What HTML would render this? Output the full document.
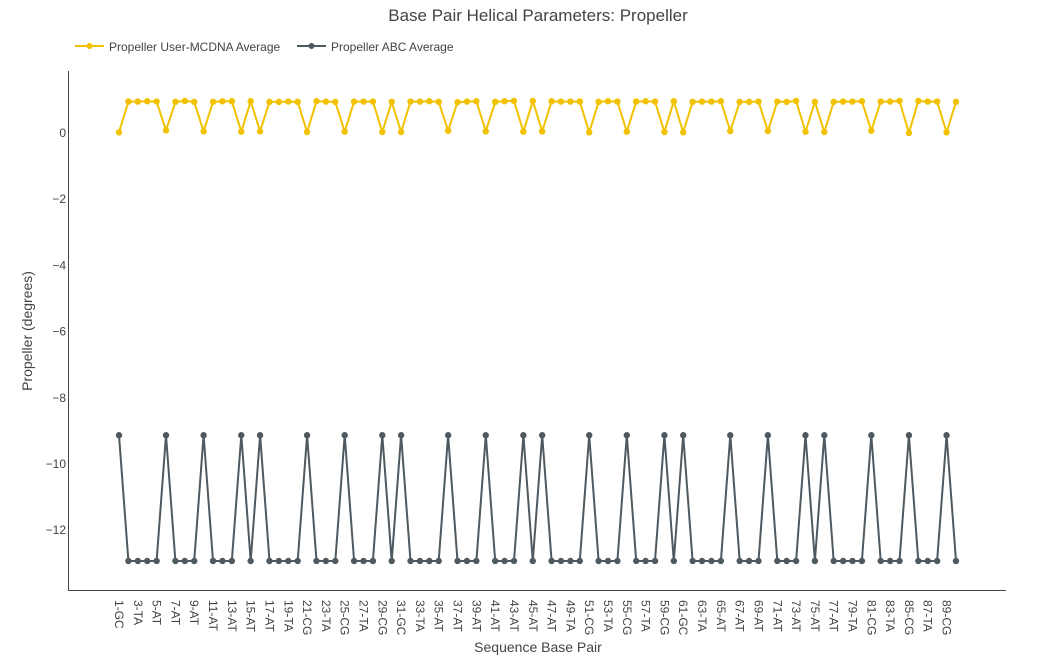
<!DOCTYPE html>
<html><head><meta charset="utf-8"><style>
html,body{margin:0;padding:0;background:#fff;}
svg{display:block;font-family:"Liberation Sans",sans-serif;}
</style></head><body>
<svg id="chart" width="1052" height="672" viewBox="0 0 1052 672" xmlns="http://www.w3.org/2000/svg">
<text x="538" y="21" text-anchor="middle" font-size="17" fill="#444">Base Pair Helical Parameters: Propeller</text>
<g>
 <g>
  <line x1="75" y1="46" x2="104" y2="46" stroke="#f2c100" stroke-width="2"/>
  <circle cx="89.5" cy="46" r="3" fill="#f2c100"/>
  <text x="109" y="51" font-size="12" fill="#444">Propeller User-MCDNA Average</text>
 </g>
 <g>
  <line x1="297" y1="46" x2="326" y2="46" stroke="#4f5960" stroke-width="2"/>
  <circle cx="311.5" cy="46" r="3" fill="#4f5960"/>
  <text x="331" y="51" font-size="12" fill="#444">Propeller ABC Average</text>
 </g>
</g>
<g id="axes"></g>
<g id="marks"></g>
<text transform="translate(32,331) rotate(-90)" text-anchor="middle" font-size="14" fill="#444">Propeller (degrees)</text>
<text x="538" y="652" text-anchor="middle" font-size="14" fill="#444">Sequence Base Pair</text>
</svg>
<script>
const gcIdx = [1,6,10,14,16,21,25,29,31,36,40,44,46,51,55,59,61,66,70,74,76,81,85,89];
const oddLabels = ["1-GC","3-TA","5-AT","7-AT","9-AT","11-AT","13-AT","15-AT","17-AT","19-TA","21-CG","23-TA","25-CG","27-TA","29-CG","31-GC","33-TA","35-AT","37-AT","39-AT","41-AT","43-AT","45-AT","47-AT","49-TA","51-CG","53-TA","55-CG","57-TA","59-CG","61-GC","63-TA","65-AT","67-AT","69-AT","71-AT","73-AT","75-AT","77-AT","79-TA","81-CG","83-TA","85-CG","87-TA","89-CG"];
const categories = [];
for (let i = 1; i <= 90; i++) {
  if (i % 2 === 1) categories.push(oddLabels[(i - 1) / 2]);
  else categories.push(i + (gcIdx.includes(i) ? "-CG" : "-AT"));
}
const userValues = [0.02,0.95,0.95,0.96,0.95,0.08,0.94,0.97,0.94,0.05,0.94,0.96,0.96,0.04,0.96,0.05,0.94,0.94,0.95,0.94,0.03,0.96,0.95,0.94,0.04,0.95,0.95,0.95,0.03,0.94,0.03,0.95,0.95,0.96,0.94,0.07,0.93,0.95,0.96,0.05,0.94,0.96,0.97,0.04,0.97,0.05,0.96,0.95,0.95,0.95,0.02,0.94,0.96,0.95,0.04,0.95,0.96,0.95,0.03,0.96,0.02,0.94,0.95,0.95,0.96,0.06,0.94,0.94,0.95,0.06,0.95,0.94,0.97,0.04,0.94,0.03,0.94,0.95,0.95,0.96,0.07,0.95,0.95,0.97,0.0,0.97,0.95,0.95,0.02,0.94];
const abcValues = categories.map((c, k) => gcIdx.includes(k + 1) ? -9.13 : -12.93);
const yTicks = [0,-2,-4,-6,-8,-10,-12];
const yTickLabels = ["0","−2","−4","−6","−8","−10","−12"];

const NS = "http://www.w3.org/2000/svg";
const X0 = 119, DX = 9.404;
const xScale = i => X0 + i * DX;
const yScale = v => 133 - v * 33.1;
function mk(tag, attrs, parent) {
  const e = document.createElementNS(NS, tag);
  for (const k in attrs) e.setAttribute(k, attrs[k]);
  parent.appendChild(e);
  return e;
}
const axes = document.getElementById("axes");
const marks = document.getElementById("marks");
const yl = mk("line", {x1:68.5, y1:71, x2:68.5, y2:590, stroke:"#444", "stroke-width":1}, axes);


const xl = mk("line", {x1:68, y1:590.5, x2:1006, y2:590.5, stroke:"#444", "stroke-width":1}, axes);


yTicks.forEach((v, k) => {
  const t = mk("text", {x:66, y:yScale(v) + 4, "text-anchor":"end", "font-size":12, fill:"#444"}, axes);
  t.textContent = yTickLabels[k];
  
  
});
categories.forEach((c, i) => {
  if (i % 2 !== 0) return;
  const x = xScale(i);
  const t = mk("text", {transform:`translate(${x - 4},600) rotate(90)`, "font-size":12, fill:"#444"}, axes);
  t.textContent = c;
  
  
});
function series(vals, color, name) {
  const g = mk("g", {}, marks);
  
  
  const pts = vals.map((v, i) => xScale(i).toFixed(1) + "," + yScale(v).toFixed(1)).join(" ");
  const pl = mk("polyline", {points:pts, fill:"none", stroke:color, "stroke-width":2, "stroke-linejoin":"round"}, g);
  
  
  vals.forEach((v, i) => {
    const c = mk("circle", {cx:xScale(i), cy:yScale(v), r:3.2, fill:color}, g);
    
    
  });
}
series(userValues, "#f2c100", "user-mcdna-series");
series(abcValues, "#4f5960", "abc-series");
</script>
</body></html>
